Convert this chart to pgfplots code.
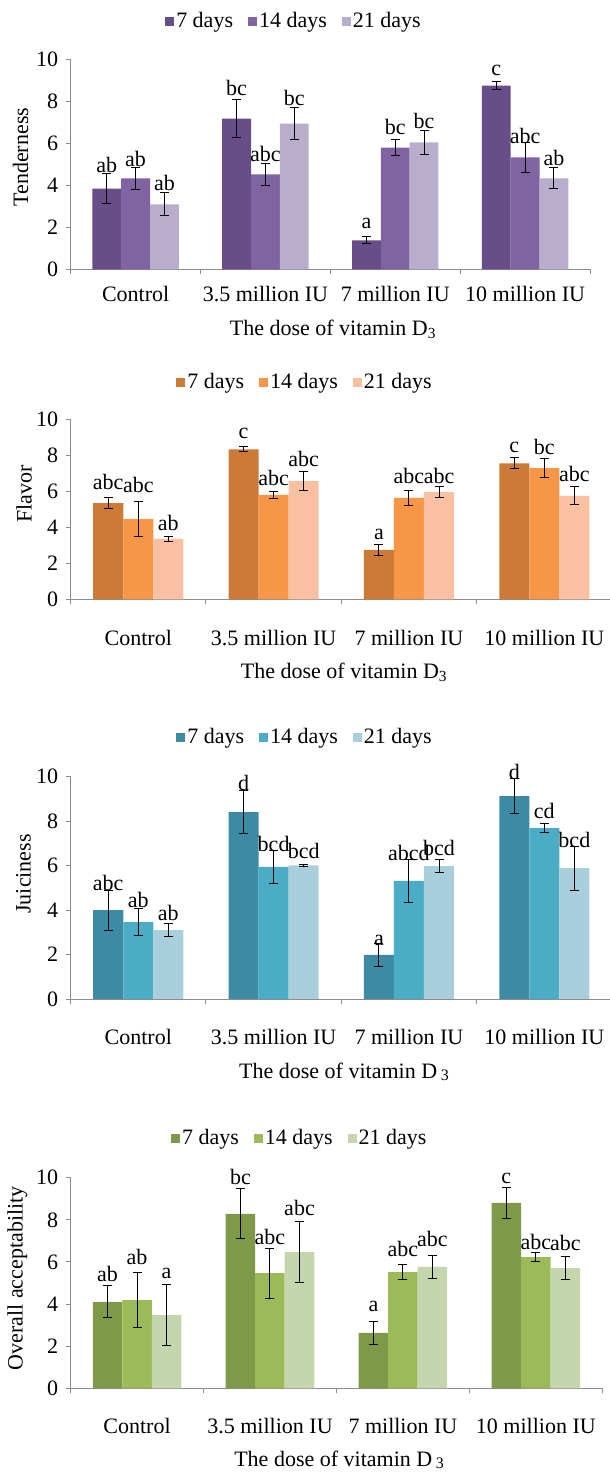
\documentclass[border=0pt]{standalone}
\usepackage{fontspec}
\setmainfont{Liberation Serif}
\usepackage{pgfplots}
\usepackage{pgfplotstable}
\pgfplotsset{compat=1.18}

\definecolor{pur1}{HTML}{674E88}\definecolor{pur2}{HTML}{8064A2}\definecolor{pur3}{HTML}{B8AECB}
\definecolor{org1}{HTML}{CC7A38}\definecolor{org2}{HTML}{F79646}\definecolor{org3}{HTML}{F9C0A2}
\definecolor{blu1}{HTML}{3C8AA3}\definecolor{blu2}{HTML}{4BACC6}\definecolor{blu3}{HTML}{A9CFDD}
\definecolor{grn1}{HTML}{7E9A48}\definecolor{grn2}{HTML}{9BBB59}\definecolor{grn3}{HTML}{C5D6AE}
\definecolor{axgray}{HTML}{8C8C8C}

% x value, bar values, errors, label centre heights, letters
\pgfplotstableread{
x v7 e7 v14 e14 v21 e21 y7 y14 y21 l7 l14 l21
0 3.84 0.70 4.32 0.52 3.09 0.55 4.98 5.25 4.10 ab ab ab
1 7.17 0.91 4.51 0.53 6.93 0.77 8.62 5.46 8.15 bc abc bc
2 1.38 0.16 5.79 0.40 6.03 0.55 2.17 6.79 7.07 a bc bc
3 8.73 0.20 5.32 0.70 4.32 0.50 9.45 6.36 5.28 c abc ab
}\tabTender

\pgfplotstableread{
x v7 e7 v14 e14 v21 e21 y7 y14 y21 l7 l14 l21
0 5.34 0.31 4.44 0.98 3.35 0.14 6.52 6.34 4.21 abc abc ab
1 8.32 0.15 5.79 0.20 6.56 0.55 9.20 6.71 7.78 c abc abc
2 2.74 0.30 5.62 0.43 5.95 0.28 3.62 6.84 6.84 a abc abc
3 7.54 0.30 7.28 0.54 5.73 0.50 8.43 8.43 6.95 c bc abc
}\tabFlavor

\pgfplotstableread{
x v7 e7 v14 e14 v21 e21 y7 y14 y21 l7 l14 l21
0 4.00 0.90 3.46 0.60 3.10 0.30 5.20 4.45 3.85 abc ab ab
1 8.41 0.97 5.94 0.75 6.01 0.05 9.70 6.97 6.67 d bcd bcd
2 1.98 0.50 5.31 0.95 5.98 0.30 2.65 6.55 6.78 a abcd bcd
3 9.13 0.79 7.69 0.20 5.89 0.99 10.22 8.47 7.15 d cd bcd
}\tabJuicy

\pgfplotstableread{
x v7 e7 v14 e14 v21 e21 y7 y14 y21 l7 l14 l21
0 4.10 0.76 4.19 1.31 3.48 1.46 5.43 6.22 5.43 ab ab a
1 8.28 1.19 5.47 1.19 6.47 1.45 10.02 7.17 8.54 bc abc abc
2 2.63 0.55 5.52 0.36 5.76 0.55 3.88 6.60 7.07 a abc abc
3 8.80 0.74 6.23 0.22 5.71 0.56 9.97 6.96 6.88 c abc abc
}\tabOverall

\pgfplotsset{
  sq/.style={legend image code/.code={\fill[##1] (0pt,-4.5pt) rectangle (9pt,4.5pt);}},
  errplot/.style={draw=none, mark=none, forget plot,
    error bars/.cd, y dir=both, y explicit},
  panel/.style={
    scale only axis, anchor=south west,
    xmin=-0.5, xmax=3.5, ymin=0, ymax=10,
    axis x line=bottom, axis y line=left,
    axis line style={-, draw=axgray, line width=0.9pt},
    tick style={draw=axgray, line width=0.9pt},
    tick align=outside, major tick length=5pt,
    xtick={-0.5,0.5,1.5,2.5,3.5},
    x tick label as interval,
    xticklabels={Control,3.5 million IU,7 million IU,10 million IU},
    ytick={0,2,4,6,8,10},
    /pgf/number format/assume math mode=true,
    clip=false,
    error bars/error bar style={line width=1pt, black},
    error bars/error mark options={rotate=90, mark size=4.5pt, line width=1pt, black},
    legend columns=3,
    legend style={draw=none, fill=none, anchor=center, inner sep=0pt,
      nodes={inner sep=2pt},
      /tikz/every even column/.append style={column sep=13pt}},
    every node near coord/.append style={anchor=center, inner sep=0pt, text=black},
  }
}

\newcommand{\panelplots}[4]{%
  \addplot[ybar, bar width=0.222, bar shift=-0.222, fill=#2, draw=none, sq]
    table[x=x, y=v7]{#1};
  \addplot[ybar, bar width=0.222, bar shift=0, fill=#3, draw=none, sq]
    table[x=x, y=v14]{#1};
  \addplot[ybar, bar width=0.222, bar shift=0.222, fill=#4, draw=none, sq]
    table[x=x, y=v21]{#1};
  \addplot[errplot] table[x expr=\thisrow{x}-0.222, y=v7, y error=e7]{#1};
  \addplot[errplot] table[x=x, y=v14, y error=e14]{#1};
  \addplot[errplot] table[x expr=\thisrow{x}+0.222, y=v21, y error=e21]{#1};
  \addplot[draw=none, forget plot, nodes near coords, point meta=explicit symbolic]
    table[x expr=\thisrow{x}-0.222, y=y7, meta=l7]{#1};
  \addplot[draw=none, forget plot, nodes near coords, point meta=explicit symbolic]
    table[x=x, y=y14, meta=l14]{#1};
  \addplot[draw=none, forget plot, nodes near coords, point meta=explicit symbolic]
    table[x expr=\thisrow{x}+0.222, y=y21, meta=l21]{#1};
  \legend{7 days,14 days,21 days}
}

\begin{document}
\fontsize{22}{25}\selectfont
\begin{tikzpicture}
\path[use as bounding box] (0pt,0pt) rectangle (610pt,1473pt);

% Panel 1: Tenderness
\begin{axis}[panel, at={(70.7pt,1203.7pt)}, width=519.3pt, height=210.3pt,
  ylabel={Tenderness}, xlabel={The dose of vitamin D\textsubscript{3}},
  every axis y label/.style={at={(axis description cs:-0.0967,0.533)}, anchor=center, rotate=90},
  every axis x label/.style={at={(axis description cs:0.505,0)}, anchor=base, yshift=-66pt},
  xticklabel style={anchor=base, yshift=-27pt},
  legend style={at={(axis description cs:0.43,1.176)}}]
\panelplots{\tabTender}{pur1}{pur2}{pur3}
\end{axis}

% Panel 2: Flavor
\begin{axis}[panel, at={(70.6pt,873.7pt)}, width=541.4pt, height=180.3pt,
  ylabel={Flavor}, xlabel={The dose of vitamin D\textsubscript{3}},
  every axis y label/.style={at={(axis description cs:-0.086,0.583)}, anchor=center, rotate=90},
  every axis x label/.style={at={(axis description cs:0.505,0)}, anchor=base, yshift=-79pt},
  xticklabel style={anchor=base, yshift=-41pt},
  legend style={at={(axis description cs:0.433,1.2)}}]
\panelplots{\tabFlavor}{org1}{org2}{org3}
\end{axis}

% Panel 3: Juiciness
\begin{axis}[panel, at={(70.6pt,474pt)}, width=541.4pt, height=222.3pt,
  ylabel={Juiciness}, xlabel={The dose of vitamin D\,\raisebox{-2pt}{\fontsize{16}{16}\selectfont 3}},
  every axis y label/.style={at={(axis description cs:-0.087,0.563)}, anchor=center, rotate=90},
  every axis x label/.style={at={(axis description cs:0.505,0)}, anchor=base, yshift=-80pt},
  xticklabel style={anchor=base, yshift=-41pt},
  legend style={at={(axis description cs:0.433,1.177)}}]
\panelplots{\tabJuicy}{blu1}{blu2}{blu3}
\end{axis}

% Panel 4: Overall acceptability
\begin{axis}[panel, at={(70.6pt,84.7pt)}, width=531.7pt, height=210.6pt,
  ylabel={Overall acceptability}, xlabel={The dose of vitamin D\,\raisebox{-2pt}{\fontsize{16}{16}\selectfont 3}},
  every axis y label/.style={at={(axis description cs:-0.1,0.522)}, anchor=center, rotate=90},
  every axis x label/.style={at={(axis description cs:0.505,0)}, anchor=base, yshift=-78pt},
  xticklabel style={anchor=base, yshift=-40pt},
  legend style={at={(axis description cs:0.431,1.187)}}]
\panelplots{\tabOverall}{grn1}{grn2}{grn3}
\end{axis}
\end{tikzpicture}
\end{document}
